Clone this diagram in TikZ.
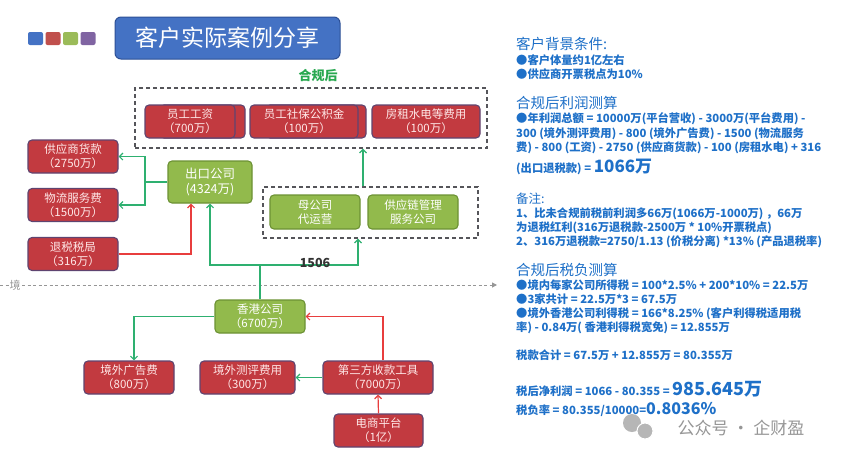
\documentclass[tikz,border=0pt]{standalone}
\usepackage{fontspec}
\setmainfont{Noto Sans CJK SC}
\usetikzlibrary{arrows.meta}
\definecolor{accblue}{RGB}{68,114,196}
\definecolor{accedge}{RGB}{45,80,150}
\definecolor{sqred}{RGB}{192,80,77}
\definecolor{sqgreen}{RGB}{155,187,89}
\definecolor{sqpurple}{RGB}{128,100,162}
\definecolor{boxred}{RGB}{194,58,64}
\definecolor{boxedge}{RGB}{95,68,112}
\definecolor{boxtext}{RGB}{255,232,232}
\definecolor{boxgreen}{RGB}{146,186,76}
\definecolor{greenedge}{RGB}{108,146,52}
\definecolor{flowgreen}{RGB}{46,176,112}
\definecolor{flowred}{RGB}{232,62,62}
\definecolor{groupgray}{RGB}{85,85,90}
\definecolor{infoblue}{RGB}{30,112,200}
\definecolor{okgreen}{RGB}{40,168,80}
\definecolor{markgray}{RGB}{150,150,150}

\tikzset{
  redbox/.style={draw=boxedge, fill=boxred, line width=1.1pt, rounded corners=4pt,
    text=boxtext, align=center, font=\fontsize{11.5}{14}\selectfont,
    minimum width=90, minimum height=33, inner sep=1pt},
  greenbox/.style={redbox, draw=greenedge, fill=boxgreen, text=white},
  groupbox/.style={draw=groupgray, line width=1.3pt, dash pattern=on 4pt off 3pt,
    minimum width=10, inner sep=0pt},
  flow/.style={draw=flowgreen, line width=1.2pt, -{Straight Barb[length=3.5pt,width=7pt]}},
  cash/.style={flow, draw=flowred},
  info/.style={anchor=base west, text=infoblue, inner sep=0pt,
    font=\fontsize{11.3}{13}\selectfont\bfseries},
  infohead/.style={info, font=\fontsize{14.5}{16}\selectfont},
  big/.style={font=\fontsize{17}{19}\selectfont\bfseries}
}

\begin{document}
\begin{tikzpicture}[x=1pt, y=-1pt]
    \useasboundingbox[fill=white] (0,0) rectangle (851,461);

    % Title with small colour squares
    \foreach \c [count=\i] in {accblue,sqred,sqgreen,sqpurple}
        \fill[\c, rounded corners=2pt] ({28+17.5*(\i-1)},32) rectangle ++(15,13);
    \node[draw=accedge, line width=1pt, fill=accblue, rounded corners=6pt, text=white,
        minimum width=225, minimum height=42, font=\fontsize{23}{25}\selectfont]
        (title) at (227.5,38) {客户实际案例分享};

    % After compliance: cost block
    \node[text=okgreen, font=\fontsize{13}{15}\selectfont\bfseries] (okhead) at (318,76) {合规后};
    \node[groupbox, minimum width=352, minimum height=60] (costs) at (311,118) {};
    \node[redbox, minimum width=85] (wageback) at (202.5,121.5) {};
    \node[redbox] (wage) at (190,121.5) {员工工资\\（700万）};
    \node[redbox, minimum width=100] (socialback) at (316,121.5) {};
    \node[redbox, minimum width=108] (social) at (304,121.5) {员工社保公积金\\（100万）};
    \node[redbox, minimum width=108] (rent) at (426,121.5) {房租水电等费用\\（100万）};

    % Domestic side
    \node[redbox] (supplier) at (73,156.5) {供应商货款\\（2750万）};
    \node[redbox] (logistics) at (73,205) {物流服务费\\（1500万）};
    \node[redbox] (taxbureau) at (73,254) {退税税局\\（316万）};
    \node[greenbox, minimum width=84, minimum height=42,
        font=\fontsize{12.5}{15}\selectfont] (export) at (210,182) {出口公司\\(4324万)};
    \node[groupbox, minimum width=215, minimum height=51] (agents) at (370.5,212.5) {};
    \node[greenbox, minimum height=34] (parent) at (315,212) {母公司\\代运营};
    \node[greenbox, minimum height=34] (chain) at (413,212) {供应链管理\\服务公司};

    \coordinate (split) at (145,182);
    \draw[flow, -] (export.west) -- (split);
    \draw[flow] (split) |- (supplier.east);
    \draw[flow] (split) |- (logistics.east);
    \draw[cash] (taxbureau.east) -| ([xshift=-19]export.south);
    \draw[flow] ([xshift=-7.5]agents.north) -- ([xshift=-7.5]agents.north |- costs.south);

    % Border line
    \coordinate (bl) at (0,285);
    \coordinate (br) at (497,285);
    \draw[markgray, line width=1pt, dash pattern=on 3pt off 2.5pt,
        -{Triangle[length=5pt,width=5pt]}] (bl) -- (br);
    \node[fill=white, inner sep=1pt, text=markgray, font=\fontsize{11}{13}\selectfont]
        (border) at (15,285) {境};

    % Offshore side
    \node[greenbox] (hk) at (260,316.5) {香港公司\\（6700万）};
    \node[redbox] (ads) at (129,377.5) {境外广告费\\（800万）};
    \node[redbox, minimum width=95] (review) at (247.5,377.5) {境外测评费用\\（300万）};
    \node[redbox, minimum width=110] (payment) at (378,377.5) {第三方收款工具\\（7000万）};
    \node[redbox, minimum width=89] (platform) at (378.5,430.5) {电商平台\\（1亿）};

    \coordinate (fork) at (260,265);
    \draw[flow, -] (hk.north) -- (fork);
    \draw[flow] (fork) -| (export.south);
    \draw[flow] (fork) -| ([xshift=-12.5]agents.south);
    \node[font=\fontsize{12.5}{14}\selectfont\bfseries, text=black!80, inner sep=0pt]
        (amount) at (315,263) {1506};
    \draw[flow] (hk.west) -| ([xshift=5]ads.north);
    \draw[flow] (payment.west) -- (review.east);
    \draw[cash] ([xshift=5]payment.north) |- (hk.east);
    \draw[cash] (platform.north) -- (payment.south);

    % Notes on the right
    \node[infohead] (bg) at (516,49) {客户背景条件:};
    \node[info] (bg1) at (516,64) {●客户体量约1亿左右};
    \node[info] (bg2) at (516,78) {●供应商开票税点为10\%};
    \node[infohead] (pf) at (516,108) {合规后利润测算};
    \node[info] (pf1) at (516,122) {●年利润总额 = 10000万(平台营收) - 3000万(平台费用) -};
    \node[info] (pf2) at (516,137) {300 (境外测评费用) - 800 (境外广告费) - 1500 (物流服务};
    \node[info] (pf3) at (516,151) {费) - 800 (工资) - 2750 (供应商货款) - 100 (房租水电) + 316};
    \node[info] (pf4) at (516,172) {(出口退税款) = {\fontsize{17}{19}\selectfont 1066万}};
    \node[infohead, font=\fontsize{12.5}{14}\selectfont] (nt) at (516,203) {备注:};
    \node[info] (nt1) at (516,217) {1、比未合规前税前利润多66万(1066万-1000万) ，66万};
    \node[info] (nt2) at (516,231) {为退税红利(316万退税款-2500万 * 10\%开票税点)};
    \node[info] (nt3) at (516,245) {2、316万退税款=2750/1.13 (价税分离) *13\% (产品退税率)};
    \node[infohead] (tx) at (516,275) {合规后税负测算};
    \node[info] (tx1) at (516,289) {●境内每家公司所得税 = 100*2.5\% + 200*10\% = 22.5万};
    \node[info] (tx2) at (516,303) {●3家共计 = 22.5万*3 = 67.5万};
    \node[info] (tx3) at (516,317) {●境外香港公司利得税 = 166*8.25\% (客户利得税适用税};
    \node[info] (tx4) at (516,331) {率) - 0.84万( 香港利得税宽免) = 12.855万};
    \node[info] (sum) at (516,359) {税款合计 = 67.5万 + 12.855万 = 80.355万};
    \node[info] (net) at (516,395) {税后净利润 = 1066 - 80.355 = {\fontsize{18}{20}\selectfont 985.645万}};
    \node[info] (rate) at (516,414) {税负率 = 80.355/10000={\fontsize{16}{18}\selectfont 0.8036\%}};

    % Watermark
    \fill[markgray!70] (632,423) circle (9);
    \fill[markgray!70, draw=white, line width=1pt] (645,431) circle (8);
    \node[text=markgray, font=\fontsize{17}{19}\selectfont] (mark) at (741,428) {公众号 · 企财盈};
\end{tikzpicture}
\end{document}
